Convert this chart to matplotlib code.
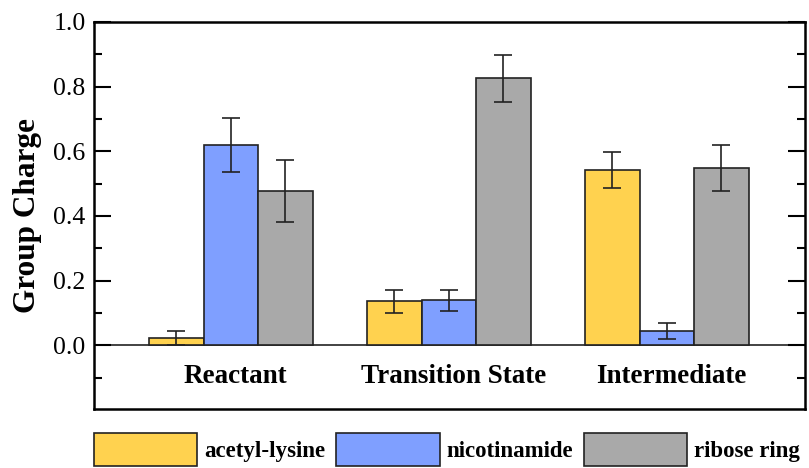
import matplotlib
matplotlib.use("Agg")
import matplotlib.pyplot as plt
import numpy as np
from matplotlib.ticker import MultipleLocator

categories = ["Reactant", "Transition State", "Intermediate"]
series = ["acetyl-lysine", "nicotinamide", "ribose ring"]
acetyl = [0.022, 0.136, 0.542]
acetyl_err = [0.022, 0.035, 0.055]
nicot = [0.620, 0.139, 0.043]
nicot_err = [0.083, 0.032, 0.025]
ribose = [0.478, 0.826, 0.548]
ribose_err = [0.096, 0.073, 0.072]
colors = ["#FFD24F", "#7F9FFF", "#A9A9A9"]

plt.rcParams['font.family'] = ['Liberation Serif', 'DejaVu Serif']

fig = plt.figure(figsize=(8.09, 4.68), dpi=100)
ax = fig.add_axes([94/809, 1-409/468, 711/809, 387/468])

x = np.arange(len(categories))
w = 0.25
vals = [acetyl, nicot, ribose]
errs = [acetyl_err, nicot_err, ribose_err]
handles = []
for i, (v, e, c, lab) in enumerate(zip(vals, errs, colors, series)):
    b = ax.bar(x + (i - 1) * w, v, w, yerr=e, color=c, edgecolor='#222222',
               linewidth=1.2, label=lab,
               error_kw=dict(ecolor='#222222', elinewidth=1.2, capsize=6.5, capthick=1.2))
    handles.append(b)

ax.axhline(0, color='#222222', linewidth=1.2, zorder=0.5)
ax.set_xlim(-0.628, 2.634)
ax.set_ylim(-0.197, 1.0)
ax.set_xticks([])
ax.yaxis.set_major_locator(MultipleLocator(0.2))
ax.yaxis.set_minor_locator(MultipleLocator(0.1))
ax.set_yticks([0.0, 0.2, 0.4, 0.6, 0.8, 1.0])
ax.set_yticklabels(["0.0", "0.2", "0.4", "0.6", "0.8", "1.0"])
ax.tick_params(axis='y', which='major', direction='in', length=12, width=1.5,
               right=True, labelsize=18.5, pad=6)
ax.tick_params(axis='y', which='minor', direction='in', length=6, width=1.5, right=True)
for s in ax.spines.values():
    s.set_linewidth(1.8)
ax.set_ylabel("Group Charge", fontsize=22.5, fontweight='bold', labelpad=8)

for xi, cat in zip(x, categories):
    ax.text(xi + 0.02, -0.095, cat, ha='center', va='center', fontsize=19.5, fontweight='bold')

leg = fig.legend(handles=handles, labels=series, loc='lower left',
                 bbox_to_anchor=(92/809, 0.0), ncol=3, frameon=False,
                 prop={'size': 16.5, 'weight': 'bold'}, handlelength=4.5, handleheight=1.84,
                 handletextpad=0.28, columnspacing=0.5, borderaxespad=0, borderpad=0.1)
for h in leg.legend_handles:
    h.set_edgecolor('#222222')

fig.savefig("out.png", dpi=100)
